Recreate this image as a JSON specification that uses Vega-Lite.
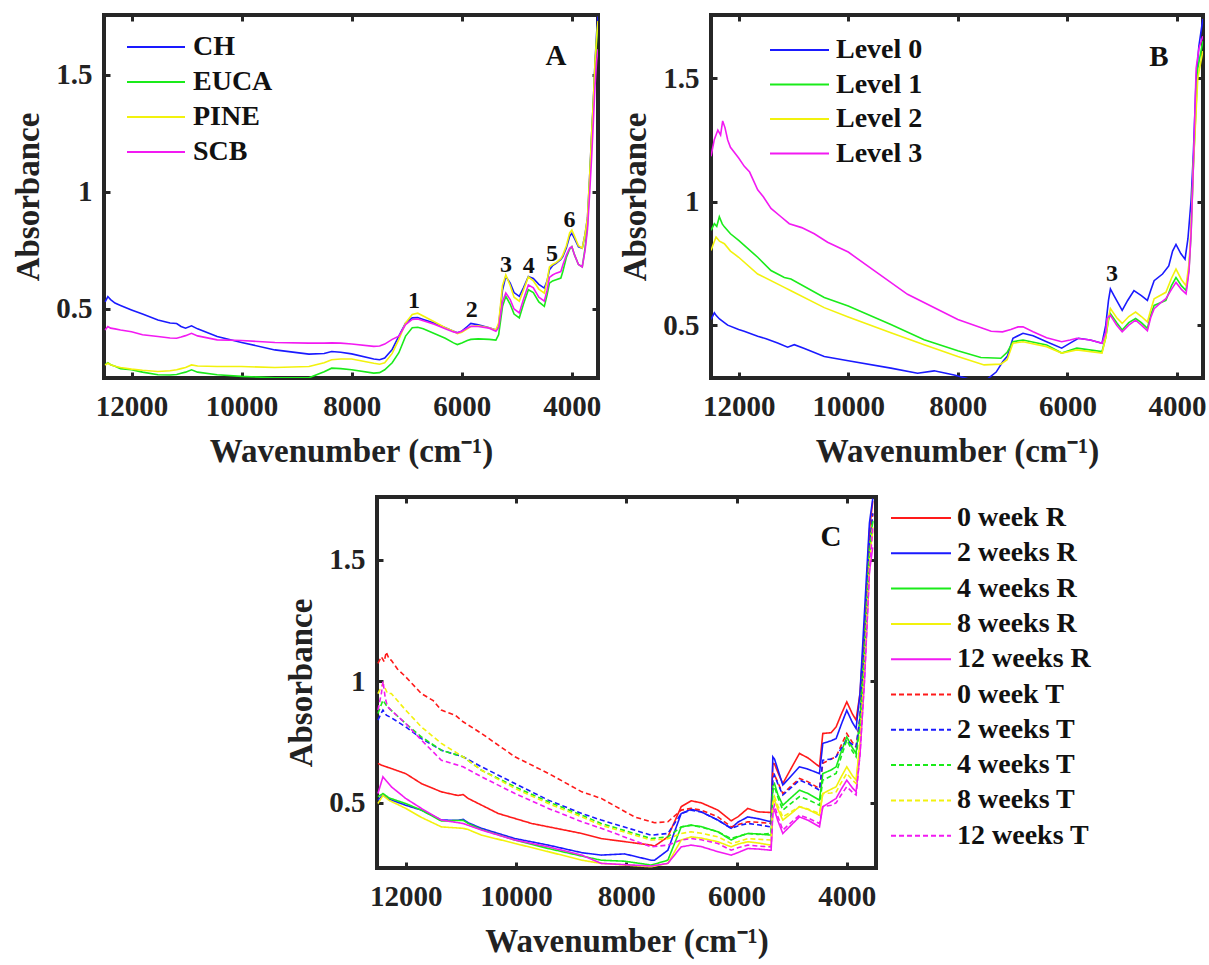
{
  "$schema": "https://vega.github.io/schema/vega-lite/v6.json",
  "padding": {"left": 10, "top": 11, "right": 2, "bottom": 0},
  "background": "white",
  "config": {
    "font": "Liberation Serif",
    "view": {"stroke": "#262626", "strokeWidth": 4},
    "axis": {"domain": false, "grid": false, "tickSize": -6, "tickWidth": 3, "tickColor": "#262626", "labelFont": "Liberation Serif", "labelFontWeight": "bold", "labelFontSize": 29, "labelColor": "#222222", "titleFont": "Liberation Serif", "titleFontWeight": "bold", "titleFontSize": 33, "titleColor": "#222222", "labelFlush": false, "labelOverlap": false, "labelBound": false},
    "axisX": {"labelPadding": 20, "titlePadding": 14},
    "axisY": {"labelPadding": 18, "titlePadding": 10},
    "legend": {"labelFont": "Liberation Serif", "labelFontWeight": "bold", "labelFontSize": 28, "labelColor": "#111111", "labelLimit": 400, "padding": 0, "symbolType": "stroke", "symbolStrokeWidth": 2, "title": null}
  },
  "datasets": {
    "A": [
      {"s":"CH","w":12480,"a":0.53},{"s":"CH","w":12430,"a":0.553},{"s":"CH","w":12380,"a":0.54},{"s":"CH","w":12300,"a":0.525},{"s":"CH","w":12200,"a":0.515},{"s":"CH","w":12000,"a":0.496},{"s":"CH","w":11800,"a":0.478},{"s":"CH","w":11520,"a":0.453},{"s":"CH","w":11300,"a":0.44},{"s":"CH","w":11180,"a":0.438},{"s":"CH","w":11100,"a":0.425},{"s":"CH","w":11018,"a":0.418},{"s":"CH","w":10910,"a":0.428},{"s":"CH","w":10800,"a":0.415},{"s":"CH","w":10444,"a":0.382},{"s":"CH","w":10000,"a":0.357},{"s":"CH","w":9395,"a":0.325},{"s":"CH","w":8777,"a":0.307},{"s":"CH","w":8500,"a":0.31},{"s":"CH","w":8364,"a":0.318},{"s":"CH","w":8200,"a":0.315},{"s":"CH","w":8000,"a":0.308},{"s":"CH","w":7599,"a":0.286},{"s":"CH","w":7493,"a":0.283},{"s":"CH","w":7400,"a":0.29},{"s":"CH","w":7264,"a":0.327},{"s":"CH","w":7143,"a":0.384},{"s":"CH","w":7021,"a":0.44},{"s":"CH","w":6900,"a":0.462},{"s":"CH","w":6800,"a":0.463},{"s":"CH","w":6700,"a":0.455},{"s":"CH","w":6500,"a":0.44},{"s":"CH","w":6300,"a":0.42},{"s":"CH","w":6150,"a":0.405},{"s":"CH","w":6080,"a":0.398},{"s":"CH","w":6000,"a":0.405},{"s":"CH","w":5900,"a":0.425},{"s":"CH","w":5836,"a":0.438},{"s":"CH","w":5700,"a":0.432},{"s":"CH","w":5500,"a":0.42},{"s":"CH","w":5380,"a":0.41},{"s":"CH","w":5330,"a":0.43},{"s":"CH","w":5260,"a":0.58},{"s":"CH","w":5200,"a":0.639},{"s":"CH","w":5120,"a":0.61},{"s":"CH","w":5050,"a":0.57},{"s":"CH","w":4955,"a":0.554},{"s":"CH","w":4880,"a":0.59},{"s":"CH","w":4790,"a":0.639},{"s":"CH","w":4700,"a":0.63},{"s":"CH","w":4600,"a":0.605},{"s":"CH","w":4500,"a":0.589},{"s":"CH","w":4450,"a":0.62},{"s":"CH","w":4407,"a":0.667},{"s":"CH","w":4350,"a":0.685},{"s":"CH","w":4286,"a":0.695},{"s":"CH","w":4200,"a":0.712},{"s":"CH","w":4164,"a":0.724},{"s":"CH","w":4100,"a":0.76},{"s":"CH","w":4040,"a":0.81},{"s":"CH","w":4000,"a":0.823},{"s":"CH","w":3950,"a":0.8},{"s":"CH","w":3880,"a":0.765},{"s":"CH","w":3811,"a":0.76},{"s":"CH","w":3760,"a":0.82},{"s":"CH","w":3716,"a":0.89},{"s":"CH","w":3680,"a":1.05},{"s":"CH","w":3640,"a":1.25},{"s":"CH","w":3609,"a":1.39},{"s":"CH","w":3580,"a":1.55},{"s":"CH","w":3550,"a":1.68},{"s":"CH","w":3525,"a":1.75},
      {"s":"EUCA","w":12480,"a":0.262},{"s":"EUCA","w":12430,"a":0.27},{"s":"EUCA","w":12380,"a":0.262},{"s":"EUCA","w":12300,"a":0.255},{"s":"EUCA","w":12200,"a":0.245},{"s":"EUCA","w":12000,"a":0.24},{"s":"EUCA","w":11800,"a":0.23},{"s":"EUCA","w":11520,"a":0.219},{"s":"EUCA","w":11300,"a":0.218},{"s":"EUCA","w":11180,"a":0.22},{"s":"EUCA","w":11100,"a":0.225},{"s":"EUCA","w":11018,"a":0.23},{"s":"EUCA","w":10910,"a":0.24},{"s":"EUCA","w":10800,"a":0.23},{"s":"EUCA","w":10444,"a":0.219},{"s":"EUCA","w":10000,"a":0.212},{"s":"EUCA","w":9395,"a":0.206},{"s":"EUCA","w":8777,"a":0.206},{"s":"EUCA","w":8500,"a":0.232},{"s":"EUCA","w":8364,"a":0.247},{"s":"EUCA","w":8200,"a":0.245},{"s":"EUCA","w":8000,"a":0.24},{"s":"EUCA","w":7599,"a":0.226},{"s":"EUCA","w":7493,"a":0.228},{"s":"EUCA","w":7400,"a":0.24},{"s":"EUCA","w":7264,"a":0.27},{"s":"EUCA","w":7143,"a":0.313},{"s":"EUCA","w":7021,"a":0.384},{"s":"EUCA","w":6900,"a":0.42},{"s":"EUCA","w":6800,"a":0.422},{"s":"EUCA","w":6700,"a":0.415},{"s":"EUCA","w":6500,"a":0.395},{"s":"EUCA","w":6300,"a":0.375},{"s":"EUCA","w":6150,"a":0.355},{"s":"EUCA","w":6080,"a":0.348},{"s":"EUCA","w":6000,"a":0.355},{"s":"EUCA","w":5900,"a":0.365},{"s":"EUCA","w":5836,"a":0.37},{"s":"EUCA","w":5700,"a":0.372},{"s":"EUCA","w":5500,"a":0.37},{"s":"EUCA","w":5380,"a":0.367},{"s":"EUCA","w":5330,"a":0.39},{"s":"EUCA","w":5260,"a":0.51},{"s":"EUCA","w":5200,"a":0.554},{"s":"EUCA","w":5120,"a":0.52},{"s":"EUCA","w":5050,"a":0.478},{"s":"EUCA","w":4955,"a":0.462},{"s":"EUCA","w":4880,"a":0.52},{"s":"EUCA","w":4790,"a":0.582},{"s":"EUCA","w":4700,"a":0.57},{"s":"EUCA","w":4600,"a":0.53},{"s":"EUCA","w":4500,"a":0.511},{"s":"EUCA","w":4450,"a":0.56},{"s":"EUCA","w":4407,"a":0.61},{"s":"EUCA","w":4350,"a":0.62},{"s":"EUCA","w":4286,"a":0.625},{"s":"EUCA","w":4200,"a":0.632},{"s":"EUCA","w":4164,"a":0.66},{"s":"EUCA","w":4100,"a":0.72},{"s":"EUCA","w":4040,"a":0.755},{"s":"EUCA","w":4000,"a":0.766},{"s":"EUCA","w":3950,"a":0.73},{"s":"EUCA","w":3880,"a":0.69},{"s":"EUCA","w":3811,"a":0.68},{"s":"EUCA","w":3760,"a":0.76},{"s":"EUCA","w":3716,"a":0.86},{"s":"EUCA","w":3680,"a":1.03},{"s":"EUCA","w":3640,"a":1.23},{"s":"EUCA","w":3609,"a":1.38},{"s":"EUCA","w":3580,"a":1.53},{"s":"EUCA","w":3550,"a":1.65},{"s":"EUCA","w":3525,"a":1.72},
      {"s":"PINE","w":12480,"a":0.26},{"s":"PINE","w":12430,"a":0.268},{"s":"PINE","w":12380,"a":0.262},{"s":"PINE","w":12300,"a":0.255},{"s":"PINE","w":12200,"a":0.25},{"s":"PINE","w":12000,"a":0.243},{"s":"PINE","w":11800,"a":0.238},{"s":"PINE","w":11520,"a":0.233},{"s":"PINE","w":11300,"a":0.236},{"s":"PINE","w":11180,"a":0.24},{"s":"PINE","w":11100,"a":0.245},{"s":"PINE","w":11018,"a":0.25},{"s":"PINE","w":10910,"a":0.261},{"s":"PINE","w":10800,"a":0.256},{"s":"PINE","w":10444,"a":0.254},{"s":"PINE","w":10000,"a":0.254},{"s":"PINE","w":9395,"a":0.25},{"s":"PINE","w":8777,"a":0.254},{"s":"PINE","w":8500,"a":0.27},{"s":"PINE","w":8364,"a":0.283},{"s":"PINE","w":8200,"a":0.286},{"s":"PINE","w":8000,"a":0.286},{"s":"PINE","w":7599,"a":0.268},{"s":"PINE","w":7493,"a":0.264},{"s":"PINE","w":7400,"a":0.27},{"s":"PINE","w":7264,"a":0.31},{"s":"PINE","w":7143,"a":0.37},{"s":"PINE","w":7021,"a":0.44},{"s":"PINE","w":6900,"a":0.476},{"s":"PINE","w":6800,"a":0.482},{"s":"PINE","w":6700,"a":0.47},{"s":"PINE","w":6500,"a":0.445},{"s":"PINE","w":6300,"a":0.42},{"s":"PINE","w":6150,"a":0.405},{"s":"PINE","w":6080,"a":0.395},{"s":"PINE","w":6000,"a":0.4},{"s":"PINE","w":5900,"a":0.415},{"s":"PINE","w":5836,"a":0.425},{"s":"PINE","w":5700,"a":0.428},{"s":"PINE","w":5500,"a":0.42},{"s":"PINE","w":5380,"a":0.41},{"s":"PINE","w":5330,"a":0.44},{"s":"PINE","w":5260,"a":0.6},{"s":"PINE","w":5200,"a":0.646},{"s":"PINE","w":5120,"a":0.6},{"s":"PINE","w":5050,"a":0.55},{"s":"PINE","w":4955,"a":0.533},{"s":"PINE","w":4880,"a":0.58},{"s":"PINE","w":4790,"a":0.637},{"s":"PINE","w":4700,"a":0.62},{"s":"PINE","w":4600,"a":0.585},{"s":"PINE","w":4500,"a":0.568},{"s":"PINE","w":4450,"a":0.62},{"s":"PINE","w":4407,"a":0.68},{"s":"PINE","w":4350,"a":0.69},{"s":"PINE","w":4286,"a":0.698},{"s":"PINE","w":4200,"a":0.715},{"s":"PINE","w":4164,"a":0.73},{"s":"PINE","w":4100,"a":0.77},{"s":"PINE","w":4040,"a":0.825},{"s":"PINE","w":4000,"a":0.837},{"s":"PINE","w":3950,"a":0.81},{"s":"PINE","w":3880,"a":0.77},{"s":"PINE","w":3811,"a":0.76},{"s":"PINE","w":3760,"a":0.82},{"s":"PINE","w":3716,"a":0.89},{"s":"PINE","w":3680,"a":1.05},{"s":"PINE","w":3640,"a":1.25},{"s":"PINE","w":3609,"a":1.39},{"s":"PINE","w":3580,"a":1.55},{"s":"PINE","w":3550,"a":1.66},{"s":"PINE","w":3525,"a":1.73},
      {"s":"SCB","w":12480,"a":0.41},{"s":"SCB","w":12430,"a":0.425},{"s":"SCB","w":12380,"a":0.418},{"s":"SCB","w":12300,"a":0.415},{"s":"SCB","w":12200,"a":0.41},{"s":"SCB","w":12000,"a":0.403},{"s":"SCB","w":11800,"a":0.39},{"s":"SCB","w":11520,"a":0.382},{"s":"SCB","w":11300,"a":0.376},{"s":"SCB","w":11180,"a":0.375},{"s":"SCB","w":11100,"a":0.38},{"s":"SCB","w":11018,"a":0.386},{"s":"SCB","w":10910,"a":0.396},{"s":"SCB","w":10800,"a":0.385},{"s":"SCB","w":10444,"a":0.368},{"s":"SCB","w":10000,"a":0.365},{"s":"SCB","w":9395,"a":0.357},{"s":"SCB","w":8777,"a":0.354},{"s":"SCB","w":8500,"a":0.354},{"s":"SCB","w":8364,"a":0.355},{"s":"SCB","w":8200,"a":0.354},{"s":"SCB","w":8000,"a":0.35},{"s":"SCB","w":7599,"a":0.34},{"s":"SCB","w":7493,"a":0.342},{"s":"SCB","w":7400,"a":0.35},{"s":"SCB","w":7264,"a":0.37},{"s":"SCB","w":7143,"a":0.384},{"s":"SCB","w":7021,"a":0.433},{"s":"SCB","w":6900,"a":0.455},{"s":"SCB","w":6800,"a":0.457},{"s":"SCB","w":6700,"a":0.45},{"s":"SCB","w":6500,"a":0.435},{"s":"SCB","w":6300,"a":0.415},{"s":"SCB","w":6150,"a":0.402},{"s":"SCB","w":6080,"a":0.398},{"s":"SCB","w":6000,"a":0.405},{"s":"SCB","w":5900,"a":0.418},{"s":"SCB","w":5836,"a":0.426},{"s":"SCB","w":5700,"a":0.425},{"s":"SCB","w":5500,"a":0.418},{"s":"SCB","w":5380,"a":0.405},{"s":"SCB","w":5330,"a":0.42},{"s":"SCB","w":5260,"a":0.53},{"s":"SCB","w":5200,"a":0.568},{"s":"SCB","w":5120,"a":0.54},{"s":"SCB","w":5050,"a":0.5},{"s":"SCB","w":4955,"a":0.483},{"s":"SCB","w":4880,"a":0.54},{"s":"SCB","w":4790,"a":0.603},{"s":"SCB","w":4700,"a":0.59},{"s":"SCB","w":4600,"a":0.55},{"s":"SCB","w":4500,"a":0.533},{"s":"SCB","w":4450,"a":0.58},{"s":"SCB","w":4407,"a":0.635},{"s":"SCB","w":4350,"a":0.645},{"s":"SCB","w":4286,"a":0.653},{"s":"SCB","w":4200,"a":0.66},{"s":"SCB","w":4164,"a":0.688},{"s":"SCB","w":4100,"a":0.73},{"s":"SCB","w":4040,"a":0.76},{"s":"SCB","w":4000,"a":0.766},{"s":"SCB","w":3950,"a":0.73},{"s":"SCB","w":3880,"a":0.69},{"s":"SCB","w":3811,"a":0.68},{"s":"SCB","w":3760,"a":0.75},{"s":"SCB","w":3716,"a":0.84},{"s":"SCB","w":3680,"a":0.98},{"s":"SCB","w":3640,"a":1.15},{"s":"SCB","w":3609,"a":1.3},{"s":"SCB","w":3580,"a":1.45},{"s":"SCB","w":3550,"a":1.56},{"s":"SCB","w":3525,"a":1.61}
    ],
    "B": [
      {"s":"Level 0","w":12505,"a":0.523},{"s":"Level 0","w":12444,"a":0.55},{"s":"Level 0","w":12413,"a":0.54},{"s":"Level 0","w":12350,"a":0.525},{"s":"Level 0","w":12261,"a":0.51},{"s":"Level 0","w":12200,"a":0.5},{"s":"Level 0","w":12000,"a":0.482},{"s":"Level 0","w":11900,"a":0.475},{"s":"Level 0","w":11653,"a":0.455},{"s":"Level 0","w":11500,"a":0.445},{"s":"Level 0","w":11289,"a":0.428},{"s":"Level 0","w":11106,"a":0.411},{"s":"Level 0","w":10985,"a":0.421},{"s":"Level 0","w":10800,"a":0.405},{"s":"Level 0","w":10438,"a":0.373},{"s":"Level 0","w":10000,"a":0.356},{"s":"Level 0","w":9222,"a":0.326},{"s":"Level 0","w":8735,"a":0.305},{"s":"Level 0","w":8432,"a":0.315},{"s":"Level 0","w":8067,"a":0.298},{"s":"Level 0","w":7824,"a":0.284},{"s":"Level 0","w":7459,"a":0.282},{"s":"Level 0","w":7300,"a":0.31},{"s":"Level 0","w":7178,"a":0.353},{"s":"Level 0","w":7094,"a":0.375},{"s":"Level 0","w":6994,"a":0.447},{"s":"Level 0","w":6810,"a":0.467},{"s":"Level 0","w":6626,"a":0.457},{"s":"Level 0","w":6380,"a":0.433},{"s":"Level 0","w":6104,"a":0.407},{"s":"Level 0","w":5951,"a":0.427},{"s":"Level 0","w":5798,"a":0.447},{"s":"Level 0","w":5583,"a":0.44},{"s":"Level 0","w":5368,"a":0.427},{"s":"Level 0","w":5300,"a":0.5},{"s":"Level 0","w":5250,"a":0.6},{"s":"Level 0","w":5215,"a":0.647},{"s":"Level 0","w":5150,"a":0.62},{"s":"Level 0","w":5000,"a":0.56},{"s":"Level 0","w":4900,"a":0.6},{"s":"Level 0","w":4785,"a":0.64},{"s":"Level 0","w":4650,"a":0.62},{"s":"Level 0","w":4540,"a":0.6},{"s":"Level 0","w":4480,"a":0.64},{"s":"Level 0","w":4417,"a":0.68},{"s":"Level 0","w":4264,"a":0.707},{"s":"Level 0","w":4150,"a":0.74},{"s":"Level 0","w":4080,"a":0.8},{"s":"Level 0","w":4018,"a":0.827},{"s":"Level 0","w":3930,"a":0.79},{"s":"Level 0","w":3853,"a":0.767},{"s":"Level 0","w":3800,"a":0.85},{"s":"Level 0","w":3742,"a":1.007},{"s":"Level 0","w":3700,"a":1.2},{"s":"Level 0","w":3650,"a":1.5},{"s":"Level 0","w":3600,"a":1.63},{"s":"Level 0","w":3528,"a":1.74},
      {"s":"Level 1","w":12505,"a":0.884},{"s":"Level 1","w":12444,"a":0.911},{"s":"Level 1","w":12400,"a":0.9},{"s":"Level 1","w":12353,"a":0.939},{"s":"Level 1","w":12300,"a":0.91},{"s":"Level 1","w":12261,"a":0.898},{"s":"Level 1","w":12150,"a":0.87},{"s":"Level 1","w":12000,"a":0.843},{"s":"Level 1","w":11653,"a":0.775},{"s":"Level 1","w":11410,"a":0.721},{"s":"Level 1","w":11167,"a":0.693},{"s":"Level 1","w":11046,"a":0.687},{"s":"Level 1","w":10438,"a":0.612},{"s":"Level 1","w":10000,"a":0.578},{"s":"Level 1","w":9222,"a":0.503},{"s":"Level 1","w":8614,"a":0.441},{"s":"Level 1","w":8000,"a":0.396},{"s":"Level 1","w":7580,"a":0.369},{"s":"Level 1","w":7216,"a":0.366},{"s":"Level 1","w":7100,"a":0.39},{"s":"Level 1","w":6994,"a":0.433},{"s":"Level 1","w":6810,"a":0.44},{"s":"Level 1","w":6380,"a":0.42},{"s":"Level 1","w":6104,"a":0.387},{"s":"Level 1","w":5828,"a":0.407},{"s":"Level 1","w":5368,"a":0.393},{"s":"Level 1","w":5300,"a":0.45},{"s":"Level 1","w":5250,"a":0.52},{"s":"Level 1","w":5215,"a":0.547},{"s":"Level 1","w":5100,"a":0.51},{"s":"Level 1","w":5000,"a":0.48},{"s":"Level 1","w":4880,"a":0.51},{"s":"Level 1","w":4755,"a":0.527},{"s":"Level 1","w":4650,"a":0.51},{"s":"Level 1","w":4540,"a":0.487},{"s":"Level 1","w":4480,"a":0.54},{"s":"Level 1","w":4417,"a":0.58},{"s":"Level 1","w":4202,"a":0.6},{"s":"Level 1","w":4100,"a":0.66},{"s":"Level 1","w":4018,"a":0.693},{"s":"Level 1","w":3920,"a":0.66},{"s":"Level 1","w":3834,"a":0.64},{"s":"Level 1","w":3780,"a":0.73},{"s":"Level 1","w":3742,"a":0.873},{"s":"Level 1","w":3700,"a":1.15},{"s":"Level 1","w":3620,"a":1.54},{"s":"Level 1","w":3528,"a":1.65},
      {"s":"Level 2","w":12505,"a":0.802},{"s":"Level 2","w":12460,"a":0.83},{"s":"Level 2","w":12413,"a":0.857},{"s":"Level 2","w":12350,"a":0.84},{"s":"Level 2","w":12261,"a":0.83},{"s":"Level 2","w":12150,"a":0.8},{"s":"Level 2","w":12000,"a":0.775},{"s":"Level 2","w":11653,"a":0.707},{"s":"Level 2","w":11167,"a":0.653},{"s":"Level 2","w":11046,"a":0.639},{"s":"Level 2","w":10438,"a":0.571},{"s":"Level 2","w":10000,"a":0.533},{"s":"Level 2","w":9222,"a":0.469},{"s":"Level 2","w":8614,"a":0.421},{"s":"Level 2","w":8000,"a":0.373},{"s":"Level 2","w":7520,"a":0.339},{"s":"Level 2","w":7216,"a":0.342},{"s":"Level 2","w":7100,"a":0.36},{"s":"Level 2","w":6994,"a":0.427},{"s":"Level 2","w":6810,"a":0.433},{"s":"Level 2","w":6380,"a":0.413},{"s":"Level 2","w":6104,"a":0.387},{"s":"Level 2","w":5828,"a":0.4},{"s":"Level 2","w":5368,"a":0.387},{"s":"Level 2","w":5300,"a":0.45},{"s":"Level 2","w":5250,"a":0.53},{"s":"Level 2","w":5215,"a":0.567},{"s":"Level 2","w":5100,"a":0.53},{"s":"Level 2","w":5000,"a":0.507},{"s":"Level 2","w":4880,"a":0.535},{"s":"Level 2","w":4755,"a":0.553},{"s":"Level 2","w":4650,"a":0.535},{"s":"Level 2","w":4540,"a":0.513},{"s":"Level 2","w":4480,"a":0.56},{"s":"Level 2","w":4417,"a":0.607},{"s":"Level 2","w":4202,"a":0.633},{"s":"Level 2","w":4100,"a":0.69},{"s":"Level 2","w":4018,"a":0.727},{"s":"Level 2","w":3920,"a":0.685},{"s":"Level 2","w":3834,"a":0.66},{"s":"Level 2","w":3780,"a":0.75},{"s":"Level 2","w":3742,"a":0.9},{"s":"Level 2","w":3700,"a":1.15},{"s":"Level 2","w":3620,"a":1.5},{"s":"Level 2","w":3528,"a":1.61},
      {"s":"Level 3","w":12505,"a":1.184},{"s":"Level 3","w":12444,"a":1.252},{"s":"Level 3","w":12380,"a":1.29},{"s":"Level 3","w":12330,"a":1.27},{"s":"Level 3","w":12292,"a":1.327},{"s":"Level 3","w":12250,"a":1.3},{"s":"Level 3","w":12200,"a":1.25},{"s":"Level 3","w":12150,"a":1.22},{"s":"Level 3","w":12000,"a":1.177},{"s":"Level 3","w":11897,"a":1.143},{"s":"Level 3","w":11800,"a":1.12},{"s":"Level 3","w":11653,"a":1.048},{"s":"Level 3","w":11550,"a":1.02},{"s":"Level 3","w":11410,"a":0.973},{"s":"Level 3","w":11228,"a":0.939},{"s":"Level 3","w":11076,"a":0.911},{"s":"Level 3","w":10850,"a":0.895},{"s":"Level 3","w":10620,"a":0.87},{"s":"Level 3","w":10377,"a":0.836},{"s":"Level 3","w":10000,"a":0.796},{"s":"Level 3","w":9526,"a":0.721},{"s":"Level 3","w":8918,"a":0.625},{"s":"Level 3","w":8000,"a":0.523},{"s":"Level 3","w":7392,"a":0.475},{"s":"Level 3","w":7185,"a":0.473},{"s":"Level 3","w":7033,"a":0.482},{"s":"Level 3","w":6900,"a":0.493},{"s":"Level 3","w":6810,"a":0.493},{"s":"Level 3","w":6626,"a":0.473},{"s":"Level 3","w":6380,"a":0.449},{"s":"Level 3","w":6104,"a":0.433},{"s":"Level 3","w":5951,"a":0.44},{"s":"Level 3","w":5828,"a":0.447},{"s":"Level 3","w":5583,"a":0.44},{"s":"Level 3","w":5368,"a":0.427},{"s":"Level 3","w":5300,"a":0.47},{"s":"Level 3","w":5276,"a":0.527},{"s":"Level 3","w":5215,"a":0.54},{"s":"Level 3","w":5100,"a":0.5},{"s":"Level 3","w":5000,"a":0.473},{"s":"Level 3","w":4880,"a":0.5},{"s":"Level 3","w":4755,"a":0.52},{"s":"Level 3","w":4650,"a":0.5},{"s":"Level 3","w":4540,"a":0.477},{"s":"Level 3","w":4480,"a":0.53},{"s":"Level 3","w":4417,"a":0.567},{"s":"Level 3","w":4300,"a":0.59},{"s":"Level 3","w":4202,"a":0.607},{"s":"Level 3","w":4100,"a":0.645},{"s":"Level 3","w":4018,"a":0.673},{"s":"Level 3","w":3920,"a":0.645},{"s":"Level 3","w":3834,"a":0.627},{"s":"Level 3","w":3780,"a":0.72},{"s":"Level 3","w":3742,"a":0.873},{"s":"Level 3","w":3700,"a":1.15},{"s":"Level 3","w":3650,"a":1.54},{"s":"Level 3","w":3600,"a":1.62},{"s":"Level 3","w":3528,"a":1.67}
    ],
    "C": [
      {"s":"0 week R","w":12503,"a":0.662},{"s":"0 week R","w":12442,"a":0.655},{"s":"0 week R","w":12380,"a":0.65},{"s":"0 week R","w":12261,"a":0.641},{"s":"0 week R","w":12000,"a":0.62},{"s":"0 week R","w":11715,"a":0.579},{"s":"0 week R","w":11352,"a":0.545},{"s":"0 week R","w":11050,"a":0.53},{"s":"0 week R","w":10958,"a":0.534},{"s":"0 week R","w":10867,"a":0.518},{"s":"0 week R","w":10321,"a":0.456},{"s":"0 week R","w":9715,"a":0.415},{"s":"0 week R","w":8806,"a":0.374},{"s":"0 week R","w":8453,"a":0.353},{"s":"0 week R","w":7849,"a":0.335},{"s":"0 week R","w":7547,"a":0.326},{"s":"0 week R","w":7486,"a":0.322},{"s":"0 week R","w":7245,"a":0.36},{"s":"0 week R","w":7003,"a":0.484},{"s":"0 week R","w":6822,"a":0.508},{"s":"0 week R","w":6640,"a":0.5},{"s":"0 week R","w":6338,"a":0.47},{"s":"0 week R","w":6097,"a":0.426},{"s":"0 week R","w":5976,"a":0.442},{"s":"0 week R","w":5795,"a":0.477},{"s":"0 week R","w":5613,"a":0.463},{"s":"0 week R","w":5372,"a":0.46},{"s":"0 week R","w":5341,"a":0.662},{"s":"0 week R","w":5311,"a":0.66},{"s":"0 week R","w":5250,"a":0.625},{"s":"0 week R","w":5160,"a":0.579},{"s":"0 week R","w":5010,"a":0.641},{"s":"0 week R","w":4858,"a":0.703},{"s":"0 week R","w":4700,"a":0.684},{"s":"0 week R","w":4495,"a":0.648},{"s":"0 week R","w":4435,"a":0.785},{"s":"0 week R","w":4284,"a":0.788},{"s":"0 week R","w":4193,"a":0.812},{"s":"0 week R","w":4100,"a":0.864},{"s":"0 week R","w":4000,"a":0.915},{"s":"0 week R","w":3900,"a":0.866},{"s":"0 week R","w":3831,"a":0.84},{"s":"0 week R","w":3760,"a":0.95},{"s":"0 week R","w":3680,"a":1.21},{"s":"0 week R","w":3589,"a":1.62},{"s":"0 week R","w":3529,"a":1.74},
      {"s":"2 weeks R","w":12503,"a":0.511},{"s":"2 weeks R","w":12412,"a":0.532},{"s":"2 weeks R","w":12300,"a":0.515},{"s":"2 weeks R","w":12000,"a":0.49},{"s":"2 weeks R","w":11715,"a":0.47},{"s":"2 weeks R","w":11352,"a":0.429},{"s":"2 weeks R","w":11050,"a":0.428},{"s":"2 weeks R","w":10958,"a":0.432},{"s":"2 weeks R","w":10867,"a":0.418},{"s":"2 weeks R","w":10624,"a":0.395},{"s":"2 weeks R","w":10018,"a":0.353},{"s":"2 weeks R","w":9412,"a":0.326},{"s":"2 weeks R","w":8806,"a":0.295},{"s":"2 weeks R","w":8453,"a":0.285},{"s":"2 weeks R","w":8030,"a":0.29},{"s":"2 weeks R","w":7547,"a":0.264},{"s":"2 weeks R","w":7486,"a":0.264},{"s":"2 weeks R","w":7245,"a":0.305},{"s":"2 weeks R","w":7003,"a":0.456},{"s":"2 weeks R","w":6822,"a":0.473},{"s":"2 weeks R","w":6640,"a":0.463},{"s":"2 weeks R","w":6338,"a":0.429},{"s":"2 weeks R","w":6097,"a":0.395},{"s":"2 weeks R","w":5976,"a":0.42},{"s":"2 weeks R","w":5795,"a":0.442},{"s":"2 weeks R","w":5613,"a":0.435},{"s":"2 weeks R","w":5372,"a":0.422},{"s":"2 weeks R","w":5341,"a":0.689},{"s":"2 weeks R","w":5311,"a":0.68},{"s":"2 weeks R","w":5250,"a":0.637},{"s":"2 weeks R","w":5160,"a":0.573},{"s":"2 weeks R","w":5010,"a":0.61},{"s":"2 weeks R","w":4858,"a":0.648},{"s":"2 weeks R","w":4700,"a":0.638},{"s":"2 weeks R","w":4495,"a":0.62},{"s":"2 weeks R","w":4435,"a":0.744},{"s":"2 weeks R","w":4284,"a":0.755},{"s":"2 weeks R","w":4193,"a":0.764},{"s":"2 weeks R","w":4100,"a":0.822},{"s":"2 weeks R","w":4000,"a":0.88},{"s":"2 weeks R","w":3900,"a":0.831},{"s":"2 weeks R","w":3831,"a":0.805},{"s":"2 weeks R","w":3760,"a":0.95},{"s":"2 weeks R","w":3680,"a":1.278},{"s":"2 weeks R","w":3589,"a":1.65},{"s":"2 weeks R","w":3529,"a":1.75},
      {"s":"4 weeks R","w":12503,"a":0.525},{"s":"4 weeks R","w":12412,"a":0.538},{"s":"4 weeks R","w":12300,"a":0.52},{"s":"4 weeks R","w":12000,"a":0.497},{"s":"4 weeks R","w":11715,"a":0.47},{"s":"4 weeks R","w":11352,"a":0.425},{"s":"4 weeks R","w":10958,"a":0.428},{"s":"4 weeks R","w":10867,"a":0.415},{"s":"4 weeks R","w":10624,"a":0.39},{"s":"4 weeks R","w":10018,"a":0.347},{"s":"4 weeks R","w":9412,"a":0.312},{"s":"4 weeks R","w":8806,"a":0.281},{"s":"4 weeks R","w":8453,"a":0.264},{"s":"4 weeks R","w":8030,"a":0.26},{"s":"4 weeks R","w":7547,"a":0.244},{"s":"4 weeks R","w":7245,"a":0.264},{"s":"4 weeks R","w":7003,"a":0.401},{"s":"4 weeks R","w":6822,"a":0.408},{"s":"4 weeks R","w":6640,"a":0.402},{"s":"4 weeks R","w":6338,"a":0.381},{"s":"4 weeks R","w":6097,"a":0.347},{"s":"4 weeks R","w":5976,"a":0.36},{"s":"4 weeks R","w":5795,"a":0.374},{"s":"4 weeks R","w":5613,"a":0.372},{"s":"4 weeks R","w":5372,"a":0.367},{"s":"4 weeks R","w":5341,"a":0.57},{"s":"4 weeks R","w":5311,"a":0.579},{"s":"4 weeks R","w":5250,"a":0.534},{"s":"4 weeks R","w":5160,"a":0.49},{"s":"4 weeks R","w":5010,"a":0.521},{"s":"4 weeks R","w":4858,"a":0.552},{"s":"4 weeks R","w":4700,"a":0.538},{"s":"4 weeks R","w":4495,"a":0.511},{"s":"4 weeks R","w":4435,"a":0.62},{"s":"4 weeks R","w":4284,"a":0.635},{"s":"4 weeks R","w":4193,"a":0.648},{"s":"4 weeks R","w":4100,"a":0.71},{"s":"4 weeks R","w":4000,"a":0.771},{"s":"4 weeks R","w":3900,"a":0.727},{"s":"4 weeks R","w":3831,"a":0.703},{"s":"4 weeks R","w":3760,"a":0.85},{"s":"4 weeks R","w":3680,"a":1.141},{"s":"4 weeks R","w":3589,"a":1.55},{"s":"4 weeks R","w":3529,"a":1.66},
      {"s":"8 weeks R","w":12503,"a":0.497},{"s":"8 weeks R","w":12412,"a":0.53},{"s":"8 weeks R","w":12300,"a":0.51},{"s":"8 weeks R","w":12000,"a":0.477},{"s":"8 weeks R","w":11715,"a":0.44},{"s":"8 weeks R","w":11352,"a":0.401},{"s":"8 weeks R","w":10958,"a":0.395},{"s":"8 weeks R","w":10867,"a":0.39},{"s":"8 weeks R","w":10624,"a":0.367},{"s":"8 weeks R","w":10018,"a":0.333},{"s":"8 weeks R","w":9412,"a":0.299},{"s":"8 weeks R","w":8806,"a":0.264},{"s":"8 weeks R","w":8453,"a":0.251},{"s":"8 weeks R","w":7547,"a":0.237},{"s":"8 weeks R","w":7245,"a":0.251},{"s":"8 weeks R","w":7003,"a":0.347},{"s":"8 weeks R","w":6822,"a":0.36},{"s":"8 weeks R","w":6640,"a":0.355},{"s":"8 weeks R","w":6338,"a":0.34},{"s":"8 weeks R","w":6097,"a":0.319},{"s":"8 weeks R","w":5976,"a":0.33},{"s":"8 weeks R","w":5795,"a":0.34},{"s":"8 weeks R","w":5613,"a":0.335},{"s":"8 weeks R","w":5372,"a":0.326},{"s":"8 weeks R","w":5341,"a":0.5},{"s":"8 weeks R","w":5311,"a":0.511},{"s":"8 weeks R","w":5250,"a":0.474},{"s":"8 weeks R","w":5160,"a":0.429},{"s":"8 weeks R","w":5010,"a":0.456},{"s":"8 weeks R","w":4858,"a":0.484},{"s":"8 weeks R","w":4700,"a":0.472},{"s":"8 weeks R","w":4495,"a":0.449},{"s":"8 weeks R","w":4435,"a":0.538},{"s":"8 weeks R","w":4284,"a":0.556},{"s":"8 weeks R","w":4193,"a":0.566},{"s":"8 weeks R","w":4100,"a":0.607},{"s":"8 weeks R","w":4000,"a":0.648},{"s":"8 weeks R","w":3900,"a":0.612},{"s":"8 weeks R","w":3831,"a":0.593},{"s":"8 weeks R","w":3760,"a":0.75},{"s":"8 weeks R","w":3680,"a":1.07},{"s":"8 weeks R","w":3589,"a":1.5},{"s":"8 weeks R","w":3529,"a":1.62},
      {"s":"12 weeks R","w":12503,"a":0.538},{"s":"12 weeks R","w":12412,"a":0.607},{"s":"12 weeks R","w":12350,"a":0.59},{"s":"12 weeks R","w":12261,"a":0.566},{"s":"12 weeks R","w":12000,"a":0.518},{"s":"12 weeks R","w":11715,"a":0.477},{"s":"12 weeks R","w":11352,"a":0.429},{"s":"12 weeks R","w":10958,"a":0.415},{"s":"12 weeks R","w":10624,"a":0.388},{"s":"12 weeks R","w":10018,"a":0.347},{"s":"12 weeks R","w":9412,"a":0.319},{"s":"12 weeks R","w":8806,"a":0.285},{"s":"12 weeks R","w":8453,"a":0.251},{"s":"12 weeks R","w":7547,"a":0.24},{"s":"12 weeks R","w":7245,"a":0.251},{"s":"12 weeks R","w":7003,"a":0.319},{"s":"12 weeks R","w":6822,"a":0.326},{"s":"12 weeks R","w":6640,"a":0.32},{"s":"12 weeks R","w":6338,"a":0.299},{"s":"12 weeks R","w":6097,"a":0.285},{"s":"12 weeks R","w":5976,"a":0.295},{"s":"12 weeks R","w":5795,"a":0.312},{"s":"12 weeks R","w":5613,"a":0.31},{"s":"12 weeks R","w":5372,"a":0.305},{"s":"12 weeks R","w":5341,"a":0.46},{"s":"12 weeks R","w":5311,"a":0.47},{"s":"12 weeks R","w":5250,"a":0.426},{"s":"12 weeks R","w":5160,"a":0.374},{"s":"12 weeks R","w":5010,"a":0.408},{"s":"12 weeks R","w":4858,"a":0.442},{"s":"12 weeks R","w":4700,"a":0.428},{"s":"12 weeks R","w":4495,"a":0.401},{"s":"12 weeks R","w":4435,"a":0.484},{"s":"12 weeks R","w":4284,"a":0.505},{"s":"12 weeks R","w":4193,"a":0.518},{"s":"12 weeks R","w":4100,"a":0.556},{"s":"12 weeks R","w":4000,"a":0.593},{"s":"12 weeks R","w":3900,"a":0.562},{"s":"12 weeks R","w":3831,"a":0.545},{"s":"12 weeks R","w":3760,"a":0.7},{"s":"12 weeks R","w":3680,"a":1.0},{"s":"12 weeks R","w":3589,"a":1.45},{"s":"12 weeks R","w":3529,"a":1.55},
      {"s":"0 week T","w":12503,"a":1.073},{"s":"0 week T","w":12440,"a":1.1},{"s":"0 week T","w":12390,"a":1.08},{"s":"0 week T","w":12352,"a":1.12},{"s":"0 week T","w":12300,"a":1.09},{"s":"0 week T","w":12261,"a":1.086},{"s":"0 week T","w":12150,"a":1.05},{"s":"0 week T","w":12000,"a":1.018},{"s":"0 week T","w":11715,"a":0.949},{"s":"0 week T","w":11500,"a":0.92},{"s":"0 week T","w":11352,"a":0.881},{"s":"0 week T","w":11100,"a":0.86},{"s":"0 week T","w":10958,"a":0.833},{"s":"0 week T","w":10624,"a":0.785},{"s":"0 week T","w":10018,"a":0.689},{"s":"0 week T","w":9412,"a":0.621},{"s":"0 week T","w":8806,"a":0.545},{"s":"0 week T","w":8453,"a":0.518},{"s":"0 week T","w":7849,"a":0.442},{"s":"0 week T","w":7486,"a":0.418},{"s":"0 week T","w":7245,"a":0.422},{"s":"0 week T","w":7003,"a":0.47},{"s":"0 week T","w":6822,"a":0.477},{"s":"0 week T","w":6640,"a":0.47},{"s":"0 week T","w":6338,"a":0.442},{"s":"0 week T","w":6097,"a":0.401},{"s":"0 week T","w":5976,"a":0.41},{"s":"0 week T","w":5795,"a":0.422},{"s":"0 week T","w":5613,"a":0.42},{"s":"0 week T","w":5372,"a":0.415},{"s":"0 week T","w":5341,"a":0.62},{"s":"0 week T","w":5311,"a":0.615},{"s":"0 week T","w":5250,"a":0.583},{"s":"0 week T","w":5160,"a":0.538},{"s":"0 week T","w":5010,"a":0.569},{"s":"0 week T","w":4858,"a":0.6},{"s":"0 week T","w":4700,"a":0.586},{"s":"0 week T","w":4495,"a":0.559},{"s":"0 week T","w":4435,"a":0.662},{"s":"0 week T","w":4284,"a":0.68},{"s":"0 week T","w":4193,"a":0.689},{"s":"0 week T","w":4100,"a":0.737},{"s":"0 week T","w":4000,"a":0.785},{"s":"0 week T","w":3900,"a":0.749},{"s":"0 week T","w":3831,"a":0.73},{"s":"0 week T","w":3760,"a":0.85},{"s":"0 week T","w":3680,"a":1.14},{"s":"0 week T","w":3589,"a":1.55},{"s":"0 week T","w":3529,"a":1.69},
      {"s":"2 weeks T","w":12503,"a":0.84},{"s":"2 weeks T","w":12440,"a":0.87},{"s":"2 weeks T","w":12412,"a":0.881},{"s":"2 weeks T","w":12350,"a":0.86},{"s":"2 weeks T","w":12261,"a":0.85},{"s":"2 weeks T","w":12000,"a":0.812},{"s":"2 weeks T","w":11715,"a":0.764},{"s":"2 weeks T","w":11352,"a":0.716},{"s":"2 weeks T","w":10958,"a":0.689},{"s":"2 weeks T","w":10624,"a":0.648},{"s":"2 weeks T","w":10018,"a":0.579},{"s":"2 weeks T","w":9412,"a":0.511},{"s":"2 weeks T","w":8806,"a":0.456},{"s":"2 weeks T","w":8453,"a":0.429},{"s":"2 weeks T","w":7547,"a":0.367},{"s":"2 weeks T","w":7245,"a":0.374},{"s":"2 weeks T","w":7003,"a":0.456},{"s":"2 weeks T","w":6822,"a":0.47},{"s":"2 weeks T","w":6640,"a":0.462},{"s":"2 weeks T","w":6338,"a":0.429},{"s":"2 weeks T","w":6097,"a":0.395},{"s":"2 weeks T","w":5976,"a":0.405},{"s":"2 weeks T","w":5795,"a":0.415},{"s":"2 weeks T","w":5613,"a":0.41},{"s":"2 weeks T","w":5372,"a":0.401},{"s":"2 weeks T","w":5341,"a":0.6},{"s":"2 weeks T","w":5311,"a":0.615},{"s":"2 weeks T","w":5250,"a":0.578},{"s":"2 weeks T","w":5160,"a":0.532},{"s":"2 weeks T","w":5010,"a":0.562},{"s":"2 weeks T","w":4858,"a":0.593},{"s":"2 weeks T","w":4700,"a":0.579},{"s":"2 weeks T","w":4495,"a":0.552},{"s":"2 weeks T","w":4435,"a":0.675},{"s":"2 weeks T","w":4284,"a":0.68},{"s":"2 weeks T","w":4193,"a":0.689},{"s":"2 weeks T","w":4100,"a":0.724},{"s":"2 weeks T","w":4000,"a":0.758},{"s":"2 weeks T","w":3900,"a":0.74},{"s":"2 weeks T","w":3831,"a":0.73},{"s":"2 weeks T","w":3760,"a":0.85},{"s":"2 weeks T","w":3680,"a":1.14},{"s":"2 weeks T","w":3589,"a":1.55},{"s":"2 weeks T","w":3529,"a":1.69},
      {"s":"4 weeks T","w":12503,"a":0.867},{"s":"4 weeks T","w":12412,"a":0.922},{"s":"4 weeks T","w":12350,"a":0.9},{"s":"4 weeks T","w":12261,"a":0.88},{"s":"4 weeks T","w":12000,"a":0.826},{"s":"4 weeks T","w":11715,"a":0.771},{"s":"4 weeks T","w":11352,"a":0.716},{"s":"4 weeks T","w":10958,"a":0.689},{"s":"4 weeks T","w":10624,"a":0.634},{"s":"4 weeks T","w":10018,"a":0.566},{"s":"4 weeks T","w":9412,"a":0.504},{"s":"4 weeks T","w":8806,"a":0.449},{"s":"4 weeks T","w":8453,"a":0.415},{"s":"4 weeks T","w":7547,"a":0.353},{"s":"4 weeks T","w":7245,"a":0.36},{"s":"4 weeks T","w":7003,"a":0.401},{"s":"4 weeks T","w":6822,"a":0.408},{"s":"4 weeks T","w":6640,"a":0.4},{"s":"4 weeks T","w":6338,"a":0.381},{"s":"4 weeks T","w":6097,"a":0.353},{"s":"4 weeks T","w":5976,"a":0.362},{"s":"4 weeks T","w":5795,"a":0.374},{"s":"4 weeks T","w":5613,"a":0.37},{"s":"4 weeks T","w":5372,"a":0.374},{"s":"4 weeks T","w":5341,"a":0.55},{"s":"4 weeks T","w":5311,"a":0.566},{"s":"4 weeks T","w":5250,"a":0.523},{"s":"4 weeks T","w":5160,"a":0.47},{"s":"4 weeks T","w":5010,"a":0.498},{"s":"4 weeks T","w":4858,"a":0.525},{"s":"4 weeks T","w":4700,"a":0.513},{"s":"4 weeks T","w":4495,"a":0.49},{"s":"4 weeks T","w":4435,"a":0.593},{"s":"4 weeks T","w":4284,"a":0.61},{"s":"4 weeks T","w":4193,"a":0.621},{"s":"4 weeks T","w":4100,"a":0.69},{"s":"4 weeks T","w":4000,"a":0.758},{"s":"4 weeks T","w":3900,"a":0.713},{"s":"4 weeks T","w":3831,"a":0.689},{"s":"4 weeks T","w":3760,"a":0.82},{"s":"4 weeks T","w":3680,"a":1.1},{"s":"4 weeks T","w":3589,"a":1.52},{"s":"4 weeks T","w":3529,"a":1.66},
      {"s":"8 weeks T","w":12503,"a":0.949},{"s":"8 weeks T","w":12412,"a":0.99},{"s":"8 weeks T","w":12330,"a":0.95},{"s":"8 weeks T","w":12261,"a":0.949},{"s":"8 weeks T","w":12000,"a":0.881},{"s":"8 weeks T","w":11715,"a":0.812},{"s":"8 weeks T","w":11352,"a":0.744},{"s":"8 weeks T","w":10958,"a":0.689},{"s":"8 weeks T","w":10624,"a":0.634},{"s":"8 weeks T","w":10018,"a":0.559},{"s":"8 weeks T","w":9412,"a":0.497},{"s":"8 weeks T","w":8806,"a":0.442},{"s":"8 weeks T","w":8453,"a":0.408},{"s":"8 weeks T","w":7547,"a":0.347},{"s":"8 weeks T","w":7245,"a":0.352},{"s":"8 weeks T","w":7003,"a":0.374},{"s":"8 weeks T","w":6822,"a":0.381},{"s":"8 weeks T","w":6640,"a":0.375},{"s":"8 weeks T","w":6338,"a":0.36},{"s":"8 weeks T","w":6097,"a":0.333},{"s":"8 weeks T","w":5976,"a":0.34},{"s":"8 weeks T","w":5795,"a":0.353},{"s":"8 weeks T","w":5613,"a":0.35},{"s":"8 weeks T","w":5372,"a":0.347},{"s":"8 weeks T","w":5341,"a":0.5},{"s":"8 weeks T","w":5311,"a":0.525},{"s":"8 weeks T","w":5250,"a":0.488},{"s":"8 weeks T","w":5160,"a":0.442},{"s":"8 weeks T","w":5010,"a":0.463},{"s":"8 weeks T","w":4858,"a":0.484},{"s":"8 weeks T","w":4700,"a":0.474},{"s":"8 weeks T","w":4495,"a":0.456},{"s":"8 weeks T","w":4435,"a":0.538},{"s":"8 weeks T","w":4284,"a":0.54},{"s":"8 weeks T","w":4193,"a":0.545},{"s":"8 weeks T","w":4100,"a":0.583},{"s":"8 weeks T","w":4000,"a":0.621},{"s":"8 weeks T","w":3900,"a":0.594},{"s":"8 weeks T","w":3831,"a":0.579},{"s":"8 weeks T","w":3760,"a":0.75},{"s":"8 weeks T","w":3680,"a":1.05},{"s":"8 weeks T","w":3589,"a":1.48},{"s":"8 weeks T","w":3529,"a":1.64},
      {"s":"12 weeks T","w":12503,"a":0.881},{"s":"12 weeks T","w":12440,"a":0.95},{"s":"12 weeks T","w":12412,"a":1.0},{"s":"12 weeks T","w":12370,"a":0.93},{"s":"12 weeks T","w":12330,"a":0.895},{"s":"12 weeks T","w":12261,"a":0.88},{"s":"12 weeks T","w":12000,"a":0.826},{"s":"12 weeks T","w":11715,"a":0.758},{"s":"12 weeks T","w":11352,"a":0.675},{"s":"12 weeks T","w":10958,"a":0.648},{"s":"12 weeks T","w":10624,"a":0.607},{"s":"12 weeks T","w":10018,"a":0.538},{"s":"12 weeks T","w":9412,"a":0.477},{"s":"12 weeks T","w":8806,"a":0.422},{"s":"12 weeks T","w":8453,"a":0.395},{"s":"12 weeks T","w":7547,"a":0.319},{"s":"12 weeks T","w":7245,"a":0.326},{"s":"12 weeks T","w":7003,"a":0.347},{"s":"12 weeks T","w":6822,"a":0.353},{"s":"12 weeks T","w":6640,"a":0.348},{"s":"12 weeks T","w":6338,"a":0.333},{"s":"12 weeks T","w":6097,"a":0.305},{"s":"12 weeks T","w":5976,"a":0.315},{"s":"12 weeks T","w":5795,"a":0.326},{"s":"12 weeks T","w":5613,"a":0.322},{"s":"12 weeks T","w":5372,"a":0.319},{"s":"12 weeks T","w":5341,"a":0.47},{"s":"12 weeks T","w":5311,"a":0.49},{"s":"12 weeks T","w":5250,"a":0.444},{"s":"12 weeks T","w":5160,"a":0.388},{"s":"12 weeks T","w":5010,"a":0.419},{"s":"12 weeks T","w":4858,"a":0.449},{"s":"12 weeks T","w":4700,"a":0.437},{"s":"12 weeks T","w":4495,"a":0.415},{"s":"12 weeks T","w":4435,"a":0.484},{"s":"12 weeks T","w":4284,"a":0.49},{"s":"12 weeks T","w":4193,"a":0.5},{"s":"12 weeks T","w":4100,"a":0.533},{"s":"12 weeks T","w":4000,"a":0.566},{"s":"12 weeks T","w":3900,"a":0.544},{"s":"12 weeks T","w":3831,"a":0.532},{"s":"12 weeks T","w":3760,"a":0.7},{"s":"12 weeks T","w":3680,"a":1.0},{"s":"12 weeks T","w":3589,"a":1.45},{"s":"12 weeks T","w":3529,"a":1.63}
    ]
  },
  "bounds": "flush",
  "spacing": 482,
  "resolve": {"scale": {"color": "independent", "strokeDash": "independent"}},
  "vconcat": [
    {
      "bounds": "flush",
      "spacing": 113,
      "resolve": {"scale": {"color": "independent", "strokeDash": "independent"}},
      "hconcat": [
        {
          "width": 494, "height": 363,
          "layer": [
            {
              "data": {"name": "A"},
              "mark": {"type": "line", "clip": true, "strokeWidth": 1.6},
              "encoding": {
                "x": {"field": "w", "type": "quantitative", "scale": {"domain": [3525, 12500], "reverse": true, "nice": false, "zero": false}, "axis": {"values": [4000, 6000, 8000, 10000, 12000], "format": "d", "title": "Wavenumber (cm⁻¹)"}},
                "y": {"field": "a", "type": "quantitative", "scale": {"domain": [0.205, 1.756], "nice": false, "zero": false}, "axis": {"values": [0.5, 1, 1.5], "format": "~g", "title": "Absorbance"}},
                "color": {"field": "s", "type": "nominal", "scale": {"domain": ["CH", "EUCA", "PINE", "SCB"], "range": ["#1a1aff", "#1aeb1a", "#f2f20d", "#f21af2"]}, "legend": {"orient": "none", "legendX": 22, "legendY": 17, "symbolSize": 3364, "clipHeight": 30, "rowPadding": 5, "labelOffset": 7}}
              }
            },
            {
              "data": {"values": [{"t": "1", "w": 6869, "a": 0.533}, {"t": "2", "w": 5818, "a": 0.497}, {"t": "3", "w": 5198, "a": 0.688}, {"t": "4", "w": 4784, "a": 0.684}, {"t": "5", "w": 4359, "a": 0.735}, {"t": "6", "w": 4043, "a": 0.88}]},
              "mark": {"type": "text", "font": "Liberation Serif", "fontWeight": "bold", "fontSize": 24, "color": "#111111"},
              "encoding": {
                "x": {"field": "w", "type": "quantitative", "axis": {"orient": "top", "values": [4000, 6000, 8000, 10000, 12000], "labels": false, "title": null}},
                "y": {"field": "a", "type": "quantitative", "axis": {"orient": "right", "values": [0.5, 1, 1.5], "labels": false, "title": null}},
                "text": {"field": "t"}
              }
            },
            {
              "data": {"values": [{"t": "A", "w": 4288, "a": 1.58}]},
              "mark": {"type": "text", "font": "Liberation Serif", "fontWeight": "bold", "fontSize": 29, "color": "#111111"},
              "encoding": {
                "x": {"field": "w", "type": "quantitative", "axis": null},
                "y": {"field": "a", "type": "quantitative", "axis": null},
                "text": {"field": "t"}
              }
            }
          ],
          "resolve": {"axis": {"x": "independent", "y": "independent"}}
        },
        {
          "width": 492, "height": 363,
          "layer": [
            {
              "data": {"name": "B"},
              "mark": {"type": "line", "clip": true, "strokeWidth": 1.6},
              "encoding": {
                "x": {"field": "w", "type": "quantitative", "scale": {"domain": [3525, 12505], "reverse": true, "nice": false, "zero": false}, "axis": {"values": [4000, 6000, 8000, 10000, 12000], "format": "d", "title": "Wavenumber (cm⁻¹)"}},
                "y": {"field": "a", "type": "quantitative", "scale": {"domain": [0.286, 1.756], "nice": false, "zero": false}, "axis": {"values": [0.5, 1, 1.5], "format": "~g", "title": "Absorbance"}},
                "color": {"field": "s", "type": "nominal", "scale": {"domain": ["Level 0", "Level 1", "Level 2", "Level 3"], "range": ["#1a1aff", "#1aeb1a", "#f2f20d", "#f21af2"]}, "legend": {"orient": "none", "legendX": 58, "legendY": 20, "symbolSize": 3481, "clipHeight": 30, "rowPadding": 4.5, "labelOffset": 6}}
              }
            },
            {
              "data": {"values": [{"t": "3", "w": 5184, "a": 0.707}]},
              "mark": {"type": "text", "font": "Liberation Serif", "fontWeight": "bold", "fontSize": 24, "color": "#111111"},
              "encoding": {
                "x": {"field": "w", "type": "quantitative", "axis": {"orient": "top", "values": [4000, 6000, 8000, 10000, 12000], "labels": false, "title": null}},
                "y": {"field": "a", "type": "quantitative", "axis": {"orient": "right", "values": [0.5, 1, 1.5], "labels": false, "title": null}},
                "text": {"field": "t"}
              }
            },
            {
              "data": {"values": [{"t": "B", "w": 4328, "a": 1.586}]},
              "mark": {"type": "text", "font": "Liberation Serif", "fontWeight": "bold", "fontSize": 29, "color": "#111111"},
              "encoding": {
                "x": {"field": "w", "type": "quantitative", "axis": null},
                "y": {"field": "a", "type": "quantitative", "axis": null},
                "text": {"field": "t"}
              }
            }
          ],
          "resolve": {"axis": {"x": "independent", "y": "independent"}}
        }
      ]
    },
    {
      "bounds": "flush",
      "spacing": 10,
      "resolve": {"scale": {"color": "independent", "strokeDash": "independent"}},
      "hconcat": [
        {
          "width": 263, "height": 10,
          "data": {"values": []},
          "mark": "point",
          "view": {"stroke": null}
        },
        {
          "width": 499, "height": 371,
          "layer": [
            {
              "data": {"name": "C"},
              "mark": {"type": "line", "clip": true, "strokeWidth": 1.6},
              "encoding": {
                "x": {"field": "w", "type": "quantitative", "scale": {"domain": [3470, 12520], "reverse": true, "nice": false, "zero": false}, "axis": {"values": [4000, 6000, 8000, 10000, 12000], "format": "d", "title": "Wavenumber (cm⁻¹)"}},
                "y": {"field": "a", "type": "quantitative", "scale": {"domain": [0.232, 1.757], "nice": false, "zero": false}, "axis": {"values": [0.5, 1, 1.5], "format": "~g", "title": "Absorbance"}},
                "color": {"field": "s", "type": "nominal", "scale": {"domain": ["0 week R", "2 weeks R", "4 weeks R", "8 weeks R", "12 weeks R", "0 week T", "2 weeks T", "4 weeks T", "8 weeks T", "12 weeks T"], "range": ["#ff1a1a", "#1a1aff", "#1aeb1a", "#f2f20d", "#f21af2", "#ff1a1a", "#1a1aff", "#1aeb1a", "#f2f20d", "#f21af2"]}, "legend": {"orient": "none", "legendX": 513, "legendY": 6, "symbolSize": 3600, "clipHeight": 30, "rowPadding": 5.3, "labelOffset": 5}},
                "strokeDash": {"field": "s", "type": "nominal", "scale": {"domain": ["0 week R", "2 weeks R", "4 weeks R", "8 weeks R", "12 weeks R", "0 week T", "2 weeks T", "4 weeks T", "8 weeks T", "12 weeks T"], "range": [[1, 0], [1, 0], [1, 0], [1, 0], [1, 0], [5, 3], [5, 3], [5, 3], [5, 3], [5, 3]]}, "legend": {"orient": "none", "legendX": 513, "legendY": 6, "symbolSize": 3600, "clipHeight": 30, "rowPadding": 5.3, "labelOffset": 5}}
              }
            },
            {
              "data": {"values": [{"t": "C", "w": 4285, "a": 1.592}]},
              "mark": {"type": "text", "font": "Liberation Serif", "fontWeight": "bold", "fontSize": 29, "color": "#111111"},
              "encoding": {
                "x": {"field": "w", "type": "quantitative", "axis": {"orient": "top", "values": [4000, 6000, 8000, 10000, 12000], "labels": false, "title": null}},
                "y": {"field": "a", "type": "quantitative", "axis": {"orient": "right", "values": [0.5, 1, 1.5], "labels": false, "title": null}},
                "text": {"field": "t"}
              }
            }
          ],
          "resolve": {"axis": {"x": "independent", "y": "independent"}}
        }
      ]
    }
  ]
}
